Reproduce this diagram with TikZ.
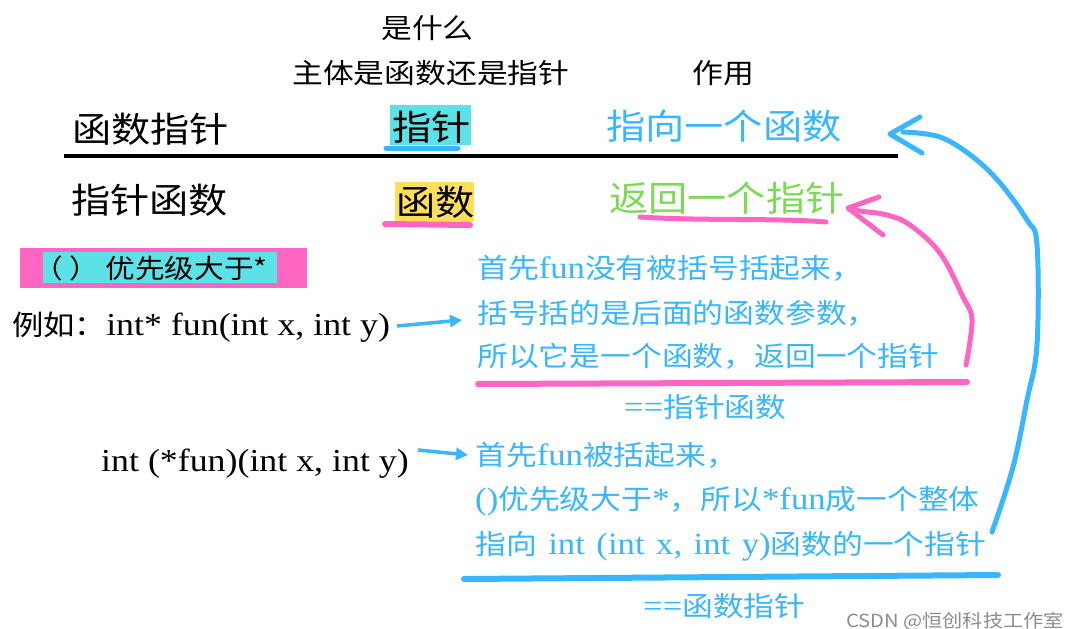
\documentclass[tikz,border=0pt]{standalone}
\usepackage{fontspec}
\setmainfont{Liberation Serif}
\newfontfamily\cjk[FakeStretch=1.12]{Noto Sans CJK SC}
\newfontfamily\lat[FakeStretch=1.12]{Liberation Serif}
\usetikzlibrary{arrows.meta}
\definecolor{cblue}{HTML}{38B6FF}
\definecolor{cgreen}{HTML}{7ED957}
\definecolor{cpink}{HTML}{FF66C4}
\definecolor{hlcyan}{HTML}{5CE1E6}
\definecolor{hlyellow}{HTML}{FFDE59}
\definecolor{wmgray}{HTML}{8C8C8C}
\newcommand\fs[1]{\fontsize{#1}{#1}\selectfont}
\newcommand\latn[1]{{\lat\fs{31}#1}}
\newcommand\wsp{\hspace{11.5pt}}
\begin{document}
\begin{tikzpicture}[x=1pt,y=-1pt,
  every node/.style={inner sep=0pt},
  hdr/.style={font=\cjk\fs{27.5}, anchor=base west},
  big/.style={font=\cjk\fs{35}, anchor=base west},
  bt/.style={font=\cjk\fs{27.5}, text=cblue, anchor=base west},
  code/.style={font=\lat\fs{32}, anchor=base west},
  pen/.style={line width=5pt, line cap=round, line join=round},
  hl/.style={minimum width=#1, minimum height=40pt},
  sarrow/.style={cblue, line width=3.5pt, -{Triangle[length=12pt,width=12pt]}}]
\useasboundingbox (0,0) rectangle (1068,629);
\fill[white] (0,0) rectangle (1068,629);

% highlight boxes
\node[hl=81pt, fill=hlcyan] (hl1) at (430.5,125) {};
\node[hl=79pt, fill=hlyellow] (hl2) at (434.5,202) {};
\node[fill=cpink, minimum width=287pt, minimum height=40pt] (pbox) at (163.5,268) {};
\node[fill=hlcyan, minimum width=234pt, minimum height=31pt] (cbox) at (160,267.5) {};

% header
\node[hdr, anchor=base] (q1) at (427.5,38) {是什么};
\node[hdr] (q2) at (292,83) {主体是函数还是指针};
\node[hdr] (q3) at (692,83) {作用};

% rows
\node[big] (r1a) at (72,142) {函数指针};
\node[big] (r1b) at (392,140) {指针};
\node[big, text=cblue] (r1c) at (606,139) {指向一个函数};
\node[big] (r2a) at (71,213) {指针函数};
\node[big] (r2b) at (396,215) {函数};
\node[big, text=cgreen] (r2c) at (609,211) {返回一个指针};

\coordinate (ls) at (64,156);
\coordinate (le) at (898,156);
\draw[line width=3.5pt] (ls) -- (le);

% marker underlines
\draw[pen, cblue] (386,148) -- (458,148);
\draw[pen, cpink, line width=6pt] (385,224) -- (470,225);
\draw[pen, cpink] (640,217) .. controls (700,221) and (780,218) .. (826,222);

% priority box
\node[font=\cjk\fs{26.5}, anchor=base west] (prio) at (33,278) {（\hspace{7pt}）\hspace{6pt}优先级大于*};

% example 1
\node[anchor=base west] (ex1) at (12,335) {{\cjk\fs{28}例如：}{\lat\fs{32}int* fun(int x, int y)}};
\coordinate (a1s) at (397,326);
\coordinate (a1e) at (462,320);
\draw[sarrow] (a1s) -- (a1e);

\node[bt] (b1l1) at (477,278.5) {首先\latn{fun}没有被括号括起来，};
\node[bt] (b1l2) at (477,323.5) {括号括的是后面的函数参数，};
\node[bt] (b1l3) at (477,366.5) {所以它是一个函数，返回一个指针};
\draw[pen, cpink, line width=6pt] (478,384) -- (967,382);
\node[bt] (b1eq) at (624,417.5) {\latn{==}指针函数};

% example 2
\node[code] (ex2) at (101,471) {int (*fun)(int x, int y)};
\coordinate (a2s) at (418,450);
\coordinate (a2e) at (468,455);
\draw[sarrow] (a2s) -- (a2e);

\node[bt] (b2l1) at (475,465.5) {首先\latn{fun}被括起来，};
\node[bt] (b2l2) at (475,509.5) {\latn{()}优先级大于\latn{*}，所以\latn{*fun}成一个整体};
\node[bt] (b2l3) at (475,554.5) {指向\latn{\wsp int\wsp(int\wsp x,\wsp int\wsp y)}函数的一个指针};
\draw[pen, cblue, line width=6pt] (464,579) -- (998,575);
\node[bt] (b2eq) at (643,616.5) {\latn{==}函数指针};

% pink curved arrow
\coordinate (pk0) at (966,365);
\coordinate (pkt) at (848,208);
\draw[pen, cpink] plot[smooth, tension=0.6] coordinates {(pk0) (972,320) (963,297) (940,253) (910,225) (887,215) (860,211) (850,209)};
\draw[pen, cpink] (879,197) -- (pkt) -- (883,235);

% blue curved arrow
\coordinate (bl0) at (992,532);
\coordinate (blt) at (890,134);
\draw[pen, cblue] plot[smooth, tension=0.6] coordinates {(bl0) (1013,467) (1027,400) (1037,345) (1037,245) (1027,220) (1000,183) (973,157) (940,137) (903,132)};
\draw[pen, cblue] (920,117) -- (blt) -- (922,153);

% watermark
\node[font=\cjk\fs{18}, text=wmgray, anchor=base west] (wm) at (846,627) {CSDN @恒创科技工作室};
\end{tikzpicture}
\end{document}
